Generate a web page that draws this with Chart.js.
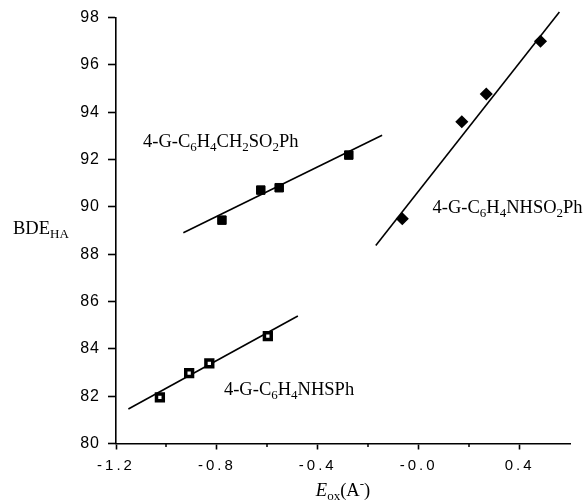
<!DOCTYPE html>
<html><head><meta charset="utf-8">
<script src="https://cdn.jsdelivr.net/npm/chart.js@4/dist/chart.umd.min.js"></script>
<style>html,body{margin:0;padding:0;background:#fff}#wrap{width:588px;height:504px;position:relative}</style>
</head><body><div id="wrap"><canvas id="c" width="588" height="504"></canvas></div>
<script>
// ---- data ----
const sulfoneX = [-0.780, -0.626, -0.553, -0.277];      // 4-G-C6H4CH2SO2Ph
const sulfoneY = [89.44, 90.71, 90.81, 92.19];
const sulfoneFitX = [-0.933, -0.145];
const sulfoneFitY = [88.91, 93.03];

const sulfenamideX = [-1.026, -0.910, -0.830, -0.598];  // 4-G-C6H4NHSPh
const sulfenamideY = [81.95, 82.97, 83.39, 84.54];
const sulfenamideFitX = [-1.151, -0.479];
const sulfenamideFitY = [81.46, 85.39];

const sulfonamideX = [-0.065, 0.171, 0.268, 0.483];     // 4-G-C6H4NHSO2Ph
const sulfonamideY = [89.50, 93.60, 94.77, 97.00];
const sulfonamideFitX = [-0.170, 0.558];
const sulfonamideFitY = [88.37, 98.24];

const xTickValues = [-1.2, -1.0, -0.8, -0.6, -0.4, -0.2, 0.0, 0.2, 0.4, 0.6];
const xLabelValues = [-1.2, -0.8, -0.4, 0.0, 0.4];
const xTickLabels = ['-1.2', '-0.8', '-0.4', '-0.0', '0.4'];
const yTickValues = [80, 82, 84, 86, 88, 90, 92, 94, 96, 98];
const yTickLabels = ['80', '82', '84', '86', '88', '90', '92', '94', '96', '98'];

const pts = (xs, ys) => xs.map((x, i) => ({x: x, y: ys[i]}));
const labelIndex = v => xLabelValues.findIndex(l => Math.abs(l - v) < 1e-6);

const SERIF = '"Liberation Serif", "Times New Roman", serif';
const SANS = '"Liberation Sans", Arial, sans-serif';

const seriesLabels = [
  {x: -1.093, y: 92.53, segs: [['4-G-C'], ['6', 'sub'], ['H'], ['4', 'sub'], ['CH'], ['2', 'sub'], ['SO'], ['2', 'sub'], ['Ph']]},
  {x: 0.055, y: 89.74, segs: [['4-G-C'], ['6', 'sub'], ['H'], ['4', 'sub'], ['NHSO'], ['2', 'sub'], ['Ph']]},
  {x: -0.772, y: 82.05, segs: [['4-G-C'], ['6', 'sub'], ['H'], ['4', 'sub'], ['NHSPh']]}
];

function drawRich(ctx, segs, x, y, align) {
  const fontOf = s => {
    if (s[1] === 'sub' || s[1] === 'sup') return '13px ' + SERIF;
    if (s[1] === 'it') return 'italic 18.5px ' + SERIF;
    return '18.5px ' + SERIF;
  };
  const widths = segs.map(s => { ctx.font = fontOf(s); return ctx.measureText(s[0]).width; });
  const total = widths.reduce((a, b) => a + b, 0);
  let cx = align === 'center' ? x - total / 2 : x;
  ctx.textAlign = 'left';
  ctx.textBaseline = 'alphabetic';
  segs.forEach((s, i) => {
    ctx.font = fontOf(s);
    const dy = s[1] === 'sub' ? 4 : (s[1] === 'sup' ? -8 : 0);
    ctx.fillText(s[0], cx, y + dy);
    cx += widths[i];
  });
}

const textPlugin = {
  id: 'texts',
  beforeDraw(chart) {
    const wrap = (sc, sp) => {
      if (!sc || sc._lsWrapped) return;
      const orig = sc.drawLabels.bind(sc);
      sc.drawLabels = function (area) {
        const ctx = this.ctx; ctx.save(); ctx.letterSpacing = sp; orig(area); ctx.restore();
      };
      sc._lsWrapped = true;
    };
    wrap(chart.scales.x, '3px');
    wrap(chart.scales.y, '1px');
  },
  afterDraw(chart) {
    const ctx = chart.ctx;
    const sx = chart.scales.x, sy = chart.scales.y;
    ctx.save();
    ctx.fillStyle = '#000';
    ctx.letterSpacing = '0px';
    // minor x ticks
    ctx.strokeStyle = '#000';
    ctx.lineWidth = 1.5;
    xTickValues.forEach(v => {
      if (labelIndex(v) >= 0 || Math.abs(v - 0.6) < 1e-6) return;
      const px = Math.round(sx.getPixelForValue(v));
      ctx.beginPath(); ctx.moveTo(px, sy.bottom); ctx.lineTo(px, sy.bottom + 3.5); ctx.stroke();
    });
    seriesLabels.forEach(l => drawRich(ctx, l.segs, sx.getPixelForValue(l.x), sy.getPixelForValue(l.y), 'left'));
    // y axis title
    drawRich(ctx, [['BDE'], ['HA', 'sub']], 13, 234, 'left');
    // x axis title
    drawRich(ctx, [['E', 'it'], ['ox', 'sub'], ['(A'], ['-', 'sup'], [')']], (sx.left + sx.right) / 2, 496, 'center');
    ctx.restore();
  }
};

const markerColor = '#000';
new Chart(document.getElementById('c'), {
  type: 'scatter',
  data: {
    datasets: [
      {data: pts(sulfoneX, sulfoneY), pointStyle: 'rect', pointRadius: 6, borderWidth: 1,
       backgroundColor: markerColor, borderColor: markerColor, showLine: false, clip: false},
      {data: pts(sulfoneFitX, sulfoneFitY), showLine: true, pointRadius: 0, borderColor: '#000', borderWidth: 1.6, clip: false},
      {data: pts(sulfenamideX, sulfenamideY), pointStyle: 'rect', pointRadius: 4.8, borderWidth: 3.5,
       backgroundColor: '#fff', borderColor: markerColor, showLine: false, clip: false},
      {data: pts(sulfenamideFitX, sulfenamideFitY), showLine: true, pointRadius: 0, borderColor: '#000', borderWidth: 1.6, clip: false},
      {data: pts(sulfonamideX, sulfonamideY), pointStyle: 'rectRot', pointRadius: 5.5, borderWidth: 1.5,
       borderJoinStyle: 'round', backgroundColor: markerColor, borderColor: markerColor, showLine: false, clip: false},
      {data: pts(sulfonamideFitX, sulfonamideFitY), showLine: true, pointRadius: 0, borderColor: '#000', borderWidth: 1.6, clip: false}
    ]
  },
  options: {
    responsive: false,
    devicePixelRatio: 1,
    animation: false,
    events: [],
    layout: {padding: {top: 17, right: 18, left: 0, bottom: 0}},
    plugins: {legend: {display: false}, tooltip: {enabled: false}},
    scales: {
      x: {
        type: 'linear', min: -1.2, max: 0.6,
        afterBuildTicks: s => { s.ticks = xTickValues.map(v => ({value: v})); },
        afterFit: s => { s.height = 60.5; },
        border: {color: '#000', width: 1.6},
        grid: {drawOnChartArea: false, tickLength: 6, tickWidth: 1.6,
               tickColor: c => (c.tick && labelIndex(c.tick.value) >= 0) ? '#000' : 'rgba(0,0,0,0)'},
        ticks: {autoSkip: false, maxRotation: 0, padding: 7, color: '#000',
                font: {family: SANS, size: 15},
                callback: v => { const i = labelIndex(v); return i >= 0 ? xTickLabels[i] : ''; }}
      },
      y: {
        type: 'linear', min: 80, max: 98,
        afterBuildTicks: s => { s.ticks = yTickValues.map(v => ({value: v})); },
        afterFit: s => { s.width = 116; },
        border: {color: '#000', width: 1.6},
        grid: {drawOnChartArea: false, tickLength: 8, tickWidth: 1.6, tickColor: '#000'},
        ticks: {padding: 8, color: '#000', font: {family: SANS, size: 16},
                callback: v => { const i = yTickValues.indexOf(v); return i >= 0 ? yTickLabels[i] : ''; }}
      }
    }
  },
  plugins: [textPlugin]
});
</script>
</body></html>
